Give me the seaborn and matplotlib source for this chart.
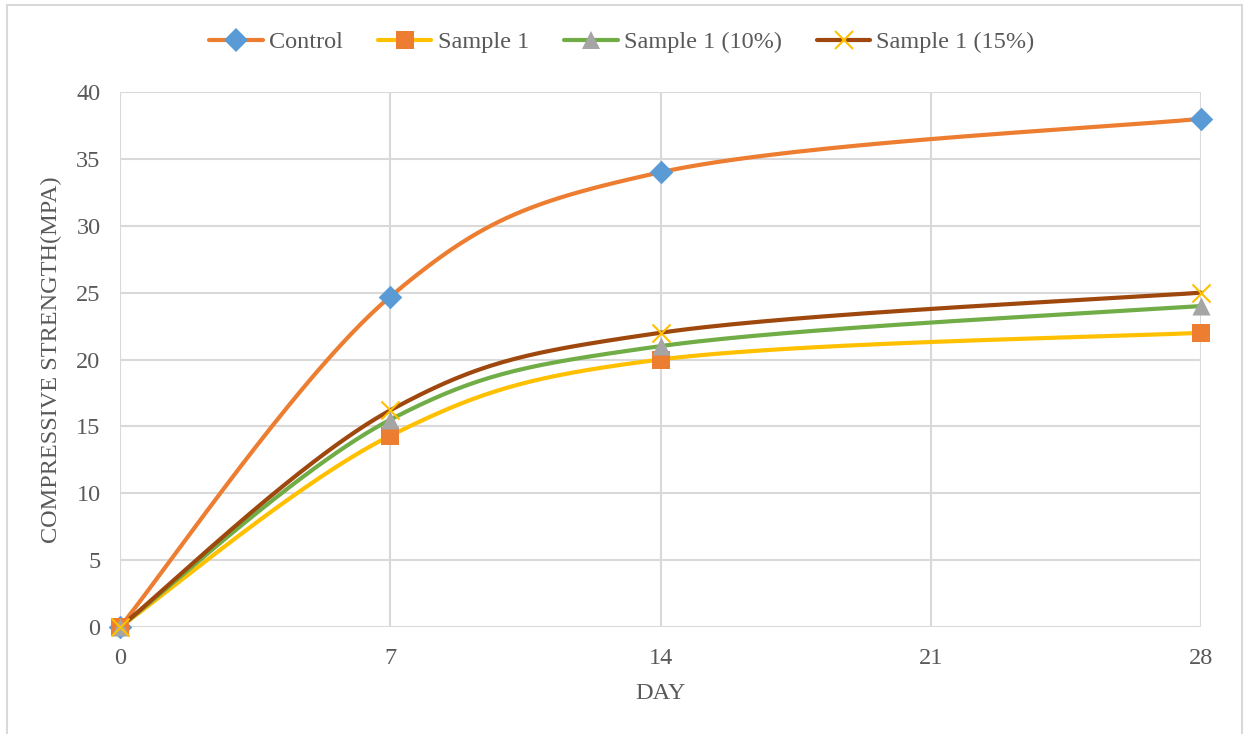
import numpy as np
import pandas as pd
import matplotlib
matplotlib.use("Agg")
import matplotlib.pyplot as plt
from matplotlib.lines import Line2D
from matplotlib.patches import Rectangle
import seaborn as sns

# Test ages (days) and compressive strength (MPa) for each mix
days = [0, 7, 14, 28]
control = [0, 24.7, 34.0, 38.0]
sample1 = [0, 14.3, 20.0, 22.0]
sample1_10 = [0, 15.5, 21.0, 24.0]
sample1_15 = [0, 16.2, 22.0, 25.0]

series_names = ["Control", "Sample 1", "Sample 1 (10%)", "Sample 1 (15%)"]
series_values = [control, sample1, sample1_10, sample1_15]
x_ticks = [0, 7, 14, 21, 28]
y_ticks = [0, 5, 10, 15, 20, 25, 30, 35, 40]

line_colors = ["#ED7D31", "#FFC000", "#70AD47", "#9E480E"]
marker_colors = ["#5B9BD5", "#ED7D31", "#A5A5A5", "#FFC000"]
marker_shapes = ["D", "s", "^", "x"]
marker_sizes = [12, 12.5, 13, 13]
text_color = "#595959"
grid_color = "#D9D9D9"
fs = 17.5


def smooth_curve(xs, ys, n=60):
    """Bezier smoothing through the points (cardinal spline, tension 1/6)."""
    pts = np.column_stack([xs, ys]).astype(float)
    out = []
    for i in range(len(pts) - 1):
        p0 = pts[i - 1] if i > 0 else pts[i]
        p1 = pts[i]
        p2 = pts[i + 1]
        p3 = pts[i + 2] if i + 2 < len(pts) else pts[i + 1]
        c1 = p1 + (p2 - p0) / 6.0
        c2 = p2 - (p3 - p1) / 6.0
        t = np.linspace(0, 1, n)[:, None]
        seg = ((1 - t) ** 3) * p1 + 3 * ((1 - t) ** 2) * t * c1 \
            + 3 * (1 - t) * t ** 2 * c2 + t ** 3 * p2
        if i > 0:
            seg = seg[1:]
        out.append(seg)
    out = np.vstack(out)
    return out[:, 0], out[:, 1]


frames = []
for name, vals in zip(series_names, series_values):
    sx, sy = smooth_curve(days, vals)
    frames.append(pd.DataFrame({"day": sx, "strength": sy, "mix": name}))
curves = pd.concat(frames, ignore_index=True)
points = pd.DataFrame({
    "day": np.tile(days, len(series_names)),
    "strength": np.concatenate(series_values),
    "mix": np.repeat(series_names, len(days)),
})

sns.set_theme(style="white")
plt.rcParams["font.family"] = ["Liberation Serif", "DejaVu Serif"]

W, H = 1244, 734
fig = plt.figure(figsize=(W / 100, H / 100), dpi=100)
ax = fig.add_axes([120 / W, (H - 627) / H, (1201 - 120) / W, (627 - 92) / H])

# Outer chart frame
fig.patches.append(Rectangle((7 / W, -0.05), (1242 - 7) / W, (H - 5) / H + 0.05,
                             transform=fig.transFigure, fill=False,
                             edgecolor=grid_color, linewidth=1.5, zorder=0))

for k, name in enumerate(series_names):
    sub = curves[curves["mix"] == name]
    sns.lineplot(data=sub, x="day", y="strength", sort=False, estimator=None,
                 color=line_colors[k], linewidth=3, ax=ax, zorder=3 + k,
                 clip_on=False, legend=False)
    pts = points[points["mix"] == name]
    if marker_shapes[k] == "x":
        sns.scatterplot(data=pts, x="day", y="strength", marker="x",
                        color=marker_colors[k], s=marker_sizes[k] ** 2,
                        linewidth=1.5, ax=ax, zorder=10 + k, clip_on=False,
                        legend=False)
    else:
        sns.scatterplot(data=pts, x="day", y="strength", marker=marker_shapes[k],
                        color=marker_colors[k], s=marker_sizes[k] ** 2,
                        linewidth=0, ax=ax, zorder=10 + k, clip_on=False,
                        legend=False)

ax.set_xlim(0, 28)
ax.set_ylim(0, 40)
ax.set_xticks(x_ticks)
ax.set_yticks(y_ticks)
ax.set_xticklabels([str(v) for v in x_ticks])
ax.set_yticklabels([str(v) for v in y_ticks])
ax.grid(True, color=grid_color, linewidth=1.5)
ax.set_axisbelow(True)
for sp in ax.spines.values():
    sp.set_visible(False)
ax.tick_params(axis="both", length=0, labelsize=fs, colors=text_color)
ax.tick_params(axis="x", pad=15)
ax.tick_params(axis="y", pad=14)

ax.set_xlabel("DAY", fontsize=fs, color=text_color, labelpad=10)
ax.set_ylabel("COMPRESSIVE STRENGTH(MPA)", fontsize=fs, color=text_color,
              labelpad=10)

handles = []
for k, name in enumerate(series_names):
    if marker_shapes[k] == "x":
        h = Line2D([], [], color=line_colors[k], linewidth=3, marker="x",
                   markersize=marker_sizes[k], markeredgecolor=marker_colors[k],
                   markeredgewidth=1.5)
    else:
        h = Line2D([], [], color=line_colors[k], linewidth=3,
                   marker=marker_shapes[k], markersize=marker_sizes[k],
                   markerfacecolor=marker_colors[k], markeredgewidth=0)
    handles.append(h)

fig.legend(handles, series_names, loc="center", bbox_to_anchor=(0.5, 1 - 42 / H),
           ncol=4, frameon=False, fontsize=fs, labelcolor=text_color,
           handlelength=2.2, handletextpad=0.25, columnspacing=1.45)

fig.savefig("out.png", dpi=100)
